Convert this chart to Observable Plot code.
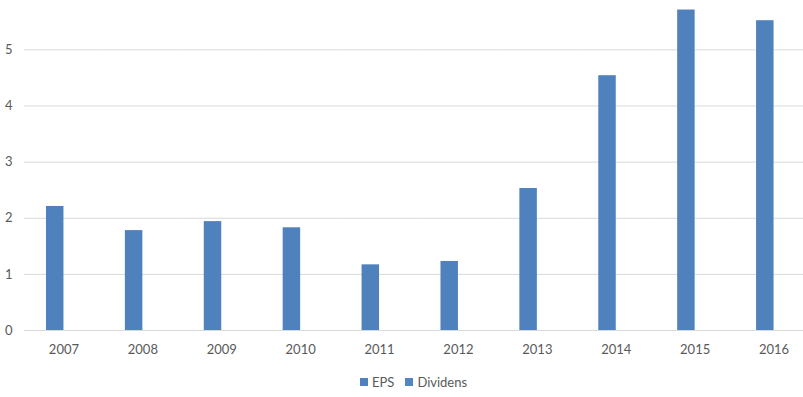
<!DOCTYPE html>
<html>
<head>
<meta charset="utf-8">
<script src="https://cdn.jsdelivr.net/npm/d3@7"></script>
<script src="https://cdn.jsdelivr.net/npm/@observablehq/plot@0.6"></script>
<style>
  html, body { margin: 0; padding: 0; background: #fff; }
  #wrap { position: relative; width: 803px; height: 397px; overflow: hidden; font-family: Lato, "Open Sans", sans-serif; }
  #wrap svg { max-width: none !important; }
  #legend { position: absolute; left: 360px; top: 374px; display: flex; align-items: center; font-size: 13px; color: #595959; }
  #legend .item { display: flex; align-items: center; margin-right: 11px; }
  #legend .sw { width: 8px; height: 8px; margin-right: 4px; }
</style>
</head>
<body>
<div id="wrap"></div>
<script>
const years = ["2007","2008","2009","2010","2011","2012","2013","2014","2015","2016"];
const series = ["EPS", "Dividens"];
const eps = [2.21, 1.78, 1.94, 1.83, 1.17, 1.23, 2.53, 4.54, 5.71, 5.52];
const dividens = [0, 0, 0, 0, 0, 0, 0, 0, 0, 0];
const colors = ["#4F81BD", "#5285C1"];
const yTicks = [0, 1, 2, 3, 4, 5];

const table = [];
years.forEach((yr, i) => {
  table.push({year: yr, series: "EPS", value: eps[i]});
  table.push({year: yr, series: "Dividens", value: dividens[i]});
});

const chart = Plot.plot({
  width: 813,
  height: 362,
  marginTop: 0,
  marginBottom: 32,
  marginLeft: 24,
  marginRight: 0,
  style: {fontFamily: "Lato, 'Open Sans', sans-serif", fontSize: "13px", color: "#595959", background: "#fff", maxWidth: "none"},
  fx: {domain: years, paddingInner: 0, paddingOuter: 0, round: false, label: null, axis: "bottom", tickSize: 0, tickPadding: 14},
  x: {domain: series, paddingInner: 0, paddingOuter: 1.257, round: false, axis: null},
  y: {domain: [0, 5.88], label: null, axis: null},
  color: {domain: series, range: colors},
  marks: [
    Plot.gridY(yTicks, {stroke: "#d9d9d9", strokeOpacity: 1}),
    Plot.barY(table, {fx: "year", x: "series", y: "value", fill: "series"}),
    Plot.axisY(yTicks, {anchor: "left", tickSize: 0, tickPadding: 12, label: null, fill: "#595959", fontSize: 13, tickFormat: d3.format("d")})
  ]
});
document.getElementById("wrap").appendChild(chart);

const legend = document.createElement("div");
legend.id = "legend";
series.forEach((s, i) => {
  const item = document.createElement("div");
  item.className = "item";
  const sw = document.createElement("div");
  sw.className = "sw";
  sw.style.background = colors[i];
  const t = document.createElement("span");
  t.textContent = s;
  item.appendChild(sw);
  item.appendChild(t);
  legend.appendChild(item);
});
document.getElementById("wrap").appendChild(legend);
</script>
</body>
</html>
